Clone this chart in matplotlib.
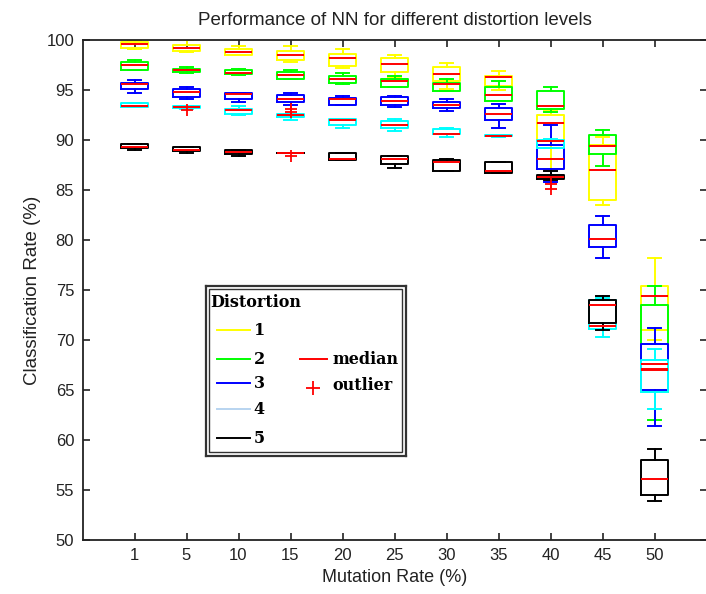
import matplotlib
matplotlib.use('Agg')
import matplotlib.pyplot as plt
from matplotlib.patches import Rectangle

# mutation rates (%) on the x axis
rates = ['1', '5', '10', '15', '20', '25', '30', '35', '40', '45', '50']

# distortion level 1
d1_lo = [99.1, 98.8, 98.5, 97.8, 97.2, 96.3, 95.1, 95.0, 87.1, 83.5, 70.0]
d1_q1 = [99.2, 98.95, 98.5, 98.05, 97.4, 96.85, 95.95, 95.4, 90.0, 84.0, 71.0]
d1_med = [99.6, 99.25, 98.8, 98.5, 98.2, 97.65, 96.65, 96.3, 91.7, 87.0, 74.4]
d1_q3 = [99.8, 99.55, 99.1, 98.95, 98.65, 98.25, 97.35, 96.45, 92.5, 89.5, 75.4]
d1_hi = [100.0, 100.0, 99.4, 99.4, 99.1, 98.5, 97.75, 96.9, 93.0, 90.3, 78.2]

# distortion level 2
d2_lo = [97.0, 96.75, 96.55, 96.1, 95.6, 95.3, 94.9, 93.9, 92.85, 87.4, 62.0]
d2_q1 = [97.05, 96.8, 96.6, 96.15, 95.7, 95.35, 94.95, 93.95, 93.1, 88.6, 64.8]
d2_med = [97.55, 97.0, 96.75, 96.5, 96.15, 95.9, 95.6, 94.55, 93.4, 89.45, 67.0]
d2_q3 = [97.8, 97.1, 97.05, 96.8, 96.45, 96.15, 95.75, 95.3, 94.9, 90.5, 73.5]
d2_hi = [98.05, 97.35, 97.1, 97.0, 96.75, 96.45, 96.1, 95.9, 95.3, 91.0, 75.4]

# distortion level 3
d3_lo = [94.75, 94.15, 93.85, 93.5, 93.5, 93.3, 92.95, 91.25, 85.8, 78.2, 61.4]
d3_q1 = [95.15, 94.35, 94.1, 93.8, 93.5, 93.55, 93.2, 92.0, 87.1, 79.35, 65.0]
d3_med = [95.6, 94.85, 94.65, 94.15, 94.1, 93.9, 93.55, 92.65, 88.1, 80.1, 67.6]
d3_q3 = [95.75, 95.15, 94.75, 94.55, 94.25, 94.3, 93.85, 93.2, 89.5, 81.55, 69.6]
d3_hi = [96.0, 95.3, 94.75, 94.7, 94.4, 94.45, 94.1, 93.6, 91.5, 82.4, 71.2]

# distortion level 4
d4_lo = [93.35, 93.15, 92.55, 92.05, 91.25, 90.95, 90.35, 90.35, 89.2, 70.35, 63.1]
d4_q1 = [93.35, 93.2, 92.6, 92.35, 91.5, 91.2, 90.6, 90.4, 89.2, 71.15, 64.8]
d4_med = [93.45, 93.35, 93.0, 92.55, 92.05, 91.5, 90.65, 90.4, 89.9, 71.45, 67.1]
d4_q3 = [93.7, 93.45, 93.15, 92.65, 92.1, 91.9, 91.1, 90.55, 90.05, 74.0, 68.0]
d4_hi = [93.7, 93.45, 93.4, 92.65, 92.1, 92.1, 91.25, 90.55, 90.1, 74.2, 69.1]

# distortion level 5
d5_lo = [89.0, 88.75, 88.4, 88.7, 88.05, 87.25, 86.9, 86.7, 86.05, 71.05, 53.95]
d5_q1 = [89.2, 88.95, 88.65, 88.7, 88.05, 87.65, 86.9, 86.75, 86.1, 71.75, 54.5]
d5_med = [89.3, 89.0, 88.8, 88.7, 88.15, 88.15, 87.85, 86.95, 86.3, 73.55, 56.1]
d5_q3 = [89.6, 89.3, 89.05, 88.7, 88.7, 88.45, 88.05, 87.85, 86.55, 74.0, 58.0]
d5_hi = [89.6, 89.3, 89.05, 88.7, 88.7, 88.45, 88.1, 87.85, 86.95, 74.4, 59.15]

# outliers: distortion level, mutation rate, classification rate
out_level = [4, 4, 4, 5, 5, 5]
out_rate = ['5', '15', '15', '15', '40', '40']
out_value = [93.05, 93.1, 92.85, 88.45, 85.65, 85.15]

levels = [
    (d1_lo, d1_q1, d1_med, d1_q3, d1_hi),
    (d2_lo, d2_q1, d2_med, d2_q3, d2_hi),
    (d3_lo, d3_q1, d3_med, d3_q3, d3_hi),
    (d4_lo, d4_q1, d4_med, d4_q3, d4_hi),
    (d5_lo, d5_q1, d5_med, d5_q3, d5_hi),
]
colors = ['#ffff00', '#00ff00', '#0000ff', '#00ffff', '#000000']

fig = plt.figure(figsize=(7.06, 5.94), dpi=100)
ax = fig.add_axes([82.5 / 706, 54 / 594, 624 / 706, 500 / 594])
positions = list(range(1, len(rates) + 1))

for k, (lo, q1, med, q3, hi) in enumerate(levels):
    stats = []
    for i, r in enumerate(rates):
        fl = [v for lv, rr, v in zip(out_level, out_rate, out_value)
              if lv == k + 1 and rr == r]
        stats.append(dict(med=med[i], q1=q1[i], q3=q3[i],
                          whislo=lo[i], whishi=hi[i], fliers=fl))
    c = colors[k]
    ax.bxp(stats, positions=positions, widths=0.52, capwidths=0.26,
           boxprops=dict(color=c, lw=1.4),
           whiskerprops=dict(color=c, lw=1.4, linestyle='-'),
           capprops=dict(color=c, lw=1.4),
           medianprops=dict(color='red', lw=1.4),
           flierprops=dict(marker='+', markeredgecolor='red', markersize=9,
                           markeredgewidth=1.3, linestyle='none'),
           manage_ticks=False)

ax.set_xlim(0, 12)
ax.set_ylim(50, 100)
ax.set_xticks(positions)
ax.set_xticklabels(rates)
ax.set_yticks(range(50, 101, 5))
ax.tick_params(direction='in', length=5, width=1.2, top=True, right=True,
               labelsize=12, colors='#222222', pad=6)
for lab in ax.get_xticklabels() + ax.get_yticklabels():
    lab.set_family('Liberation Sans')
for sp in ax.spines.values():
    sp.set_color('#222222')
    sp.set_linewidth(1.3)

ax.set_title('Performance of NN for different distortion levels',
             family=['Liberation Sans Narrow', 'Liberation Sans'],
             fontsize=13.5, color='#222222', pad=11)
ax.set_xlabel('Mutation Rate (%)', family='Liberation Sans', fontsize=13,
              color='#222222', labelpad=4)
ax.set_ylabel('Classification Rate (%)', family='Liberation Sans',
              fontsize=13.5, color='#222222', labelpad=4)

# legend panel with double border, drawn in local pixel units
leg = fig.add_axes([205.7 / 706, (594 - 455.7) / 594, 200 / 706, 170 / 594])
leg.set_xlim(0, 200)
leg.set_ylim(170, 0)
leg.set_xticks([])
leg.set_yticks([])
for sp in leg.spines.values():
    sp.set_color('#333333')
    sp.set_linewidth(1.6)
leg.add_patch(Rectangle((3.5, 3.5), 193, 163, fill=False,
                        edgecolor='#333333', lw=1.0))

serif = dict(family='DejaVu Serif', weight='bold', fontsize=11.5, color='black')
leg.text(5, 21.6, 'Distortion', va='baseline', ha='left', **serif)
legend_labels = ['1', '2', '3', '4', '5']
legend_colors = ['#ffff00', '#00ff00', '#0000ff', '#b8d4f0', '#000000']
legend_y = [44.3, 73.3, 97, 123.3, 152]
for lab, c, y in zip(legend_labels, legend_colors, legend_y):
    leg.plot([11, 44], [y, y], color=c, lw=1.4)
    leg.text(48, y + 5, lab, va='baseline', ha='left', **serif)
leg.plot([94, 121], [73.3, 73.3], color='red', lw=1.4)
leg.text(127, 77.8, 'median', va='baseline', ha='left', **serif)
leg.plot([107.3], [102.3], marker='+', color='red', markersize=10,
         markeredgewidth=1.3)
leg.text(127, 104.3, 'outlier', va='baseline', ha='left', **serif)

fig.savefig('out.png', dpi=100)
